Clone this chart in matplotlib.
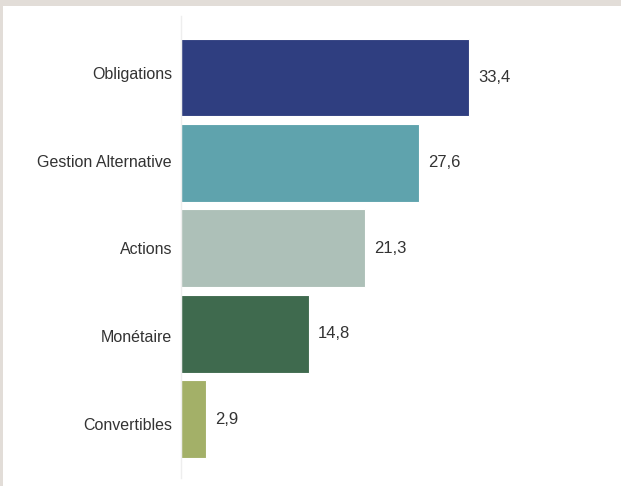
import matplotlib.pyplot as plt
from matplotlib.patches import Rectangle

# data
categories = ["Obligations", "Gestion Alternative", "Actions", "Monétaire", "Convertibles"]
values = [33.4, 27.6, 21.3, 14.8, 2.9]
value_labels = ["33,4", "27,6", "21,3", "14,8", "2,9"]
colors = ["#2f3e80", "#5fa3ad", "#adc0b8", "#3f6a4e", "#a3b068"]

plt.rcParams['font.family'] = ['Liberation Sans', 'DejaVu Sans']

W, H = 621, 486
fig = plt.figure(figsize=(W / 100, H / 100), dpi=100)
fig.patch.set_facecolor("#e2ddd8")

# white panel inside the beige frame
fig.patches.append(Rectangle((3 / W, 0), 1 - 3 / W, 1 - 6 / H, transform=fig.transFigure,
                             facecolor="white", edgecolor="none", zorder=-1))

# axes placement in pixels
left, right, top, bottom = 181, 600, 16, 478
ax = fig.add_axes([left / W, 1 - bottom / H, (right - left) / W, (bottom - top) / H])
ax.set_facecolor("none")
ax.set_zorder(2)

px_per_unit = 288 / 33.4
ax.set_xlim(0, (right - left) / px_per_unit)
ax.set_ylim(4.69, -0.72)

y = list(range(len(categories)))
ax.barh(y, values, height=0.91, color=colors, edgecolor="#ffffff", linewidth=0.8)

for yi, v, lab in zip(y, values, value_labels):
    ax.annotate(lab, (v, yi), xytext=(6.5, 0), textcoords="offset points",
                ha="left", va="center", fontsize=12, color="#333333")

# category labels are spread slightly wider than the bars in the original
ax.set_yticks([2 + (i - 2) * 1.026 for i in y])
ax.set_yticklabels(categories, fontsize=11.5, color="#333333")
ax.tick_params(axis="y", length=0, pad=6.5)
ax.set_xticks([])

for s in ["top", "right", "bottom"]:
    ax.spines[s].set_visible(False)
ax.spines["left"].set_color("#eeeeee")
ax.spines["left"].set_linewidth(1)

fig.savefig("out.png", dpi=100)
